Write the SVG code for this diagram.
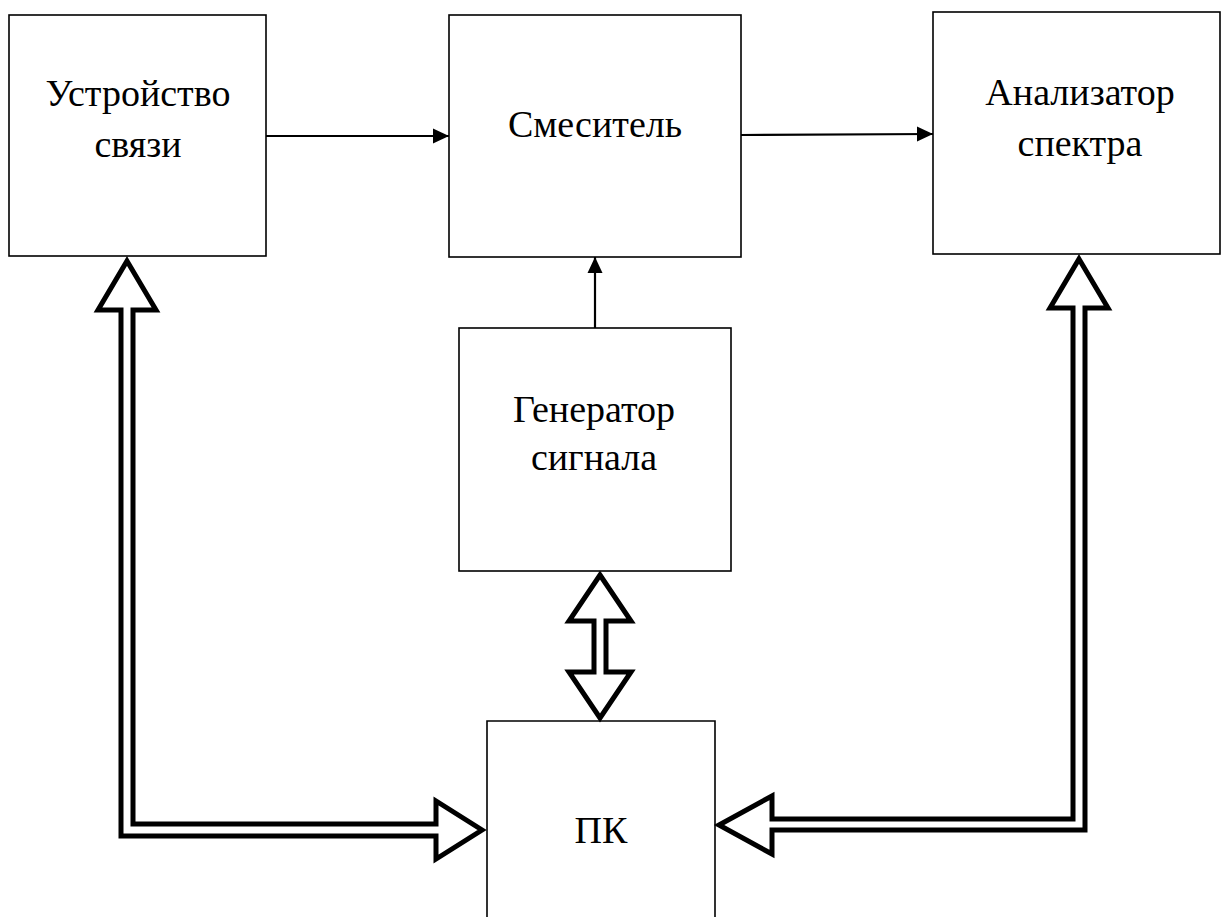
<svg xmlns="http://www.w3.org/2000/svg" width="1222" height="917" viewBox="0 0 1222 917">
<style>
.box{fill:#fff;stroke:#000;stroke-width:1.6}
.lbl{font-family:"Liberation Serif","Times New Roman",serif;font-size:38px;fill:#000;text-anchor:middle}
.line{stroke:#000;stroke-width:2.2;fill:none}
.big{fill:#fff;stroke:#000;stroke-width:5;stroke-linejoin:miter;stroke-miterlimit:6}
</style>
<defs>
<marker id="ah" markerUnits="userSpaceOnUse" markerWidth="16" markerHeight="16" viewBox="0 0 16 16" refX="16" refY="8" orient="auto">
<path d="M0,0.5 L16,8 L0,15.5 Z" fill="#000"/>
</marker>
</defs>
<rect width="1222" height="917" fill="#fff"/>
<g id="node-ustroystvo">
<rect class="box" x="9" y="15" width="257" height="241"/>
<text class="lbl" x="138" y="106">Устройство</text>
<text class="lbl" x="138" y="157">связи</text>
</g>
<g id="node-smesitel">
<rect class="box" x="449" y="15" width="292" height="242"/>
<text class="lbl" x="595" y="137">Смеситель</text>
</g>
<g id="node-analizator">
<rect class="box" x="933" y="12" width="287" height="242"/>
<text class="lbl" x="1080" y="105">Анализатор</text>
<text class="lbl" x="1080" y="156">спектра</text>
</g>
<g id="node-generator">
<rect class="box" x="459" y="328" width="272" height="243"/>
<text class="lbl" x="594" y="422">Генератор</text>
<text class="lbl" x="594" y="470">сигнала</text>
</g>
<g id="node-pk">
<path class="box" d="M487,917 L487,721 L715,721 L715,917" fill="#fff"/>
<text class="lbl" x="601" y="843">ПК</text>
</g>
<g id="connectors">
<line class="line" x1="266" y1="136" x2="449" y2="136" marker-end="url(#ah)"/>
<line class="line" x1="741" y1="135" x2="933" y2="134" marker-end="url(#ah)"/>
<line class="line" x1="595" y1="328" x2="595" y2="257" marker-end="url(#ah)"/>
<path class="big" d="M127,261 L156,310 L133,310 L133,824 L436,824 L436,801 L482,830 L436,859 L436,836 L121,836 L121,310 L98,310 Z"/>
<path class="big" d="M1079,259 L1108,308 L1085,308 L1085,830 L772,830 L772,854 L719,825 L772,796 L772,819 L1073,819 L1073,308 L1050,308 Z"/>
<path class="big" d="M600,575 L631,621 L606,621 L606,672 L631,672 L600,718 L569,672 L594,672 L594,621 L569,621 Z"/>
</g>
</svg>
